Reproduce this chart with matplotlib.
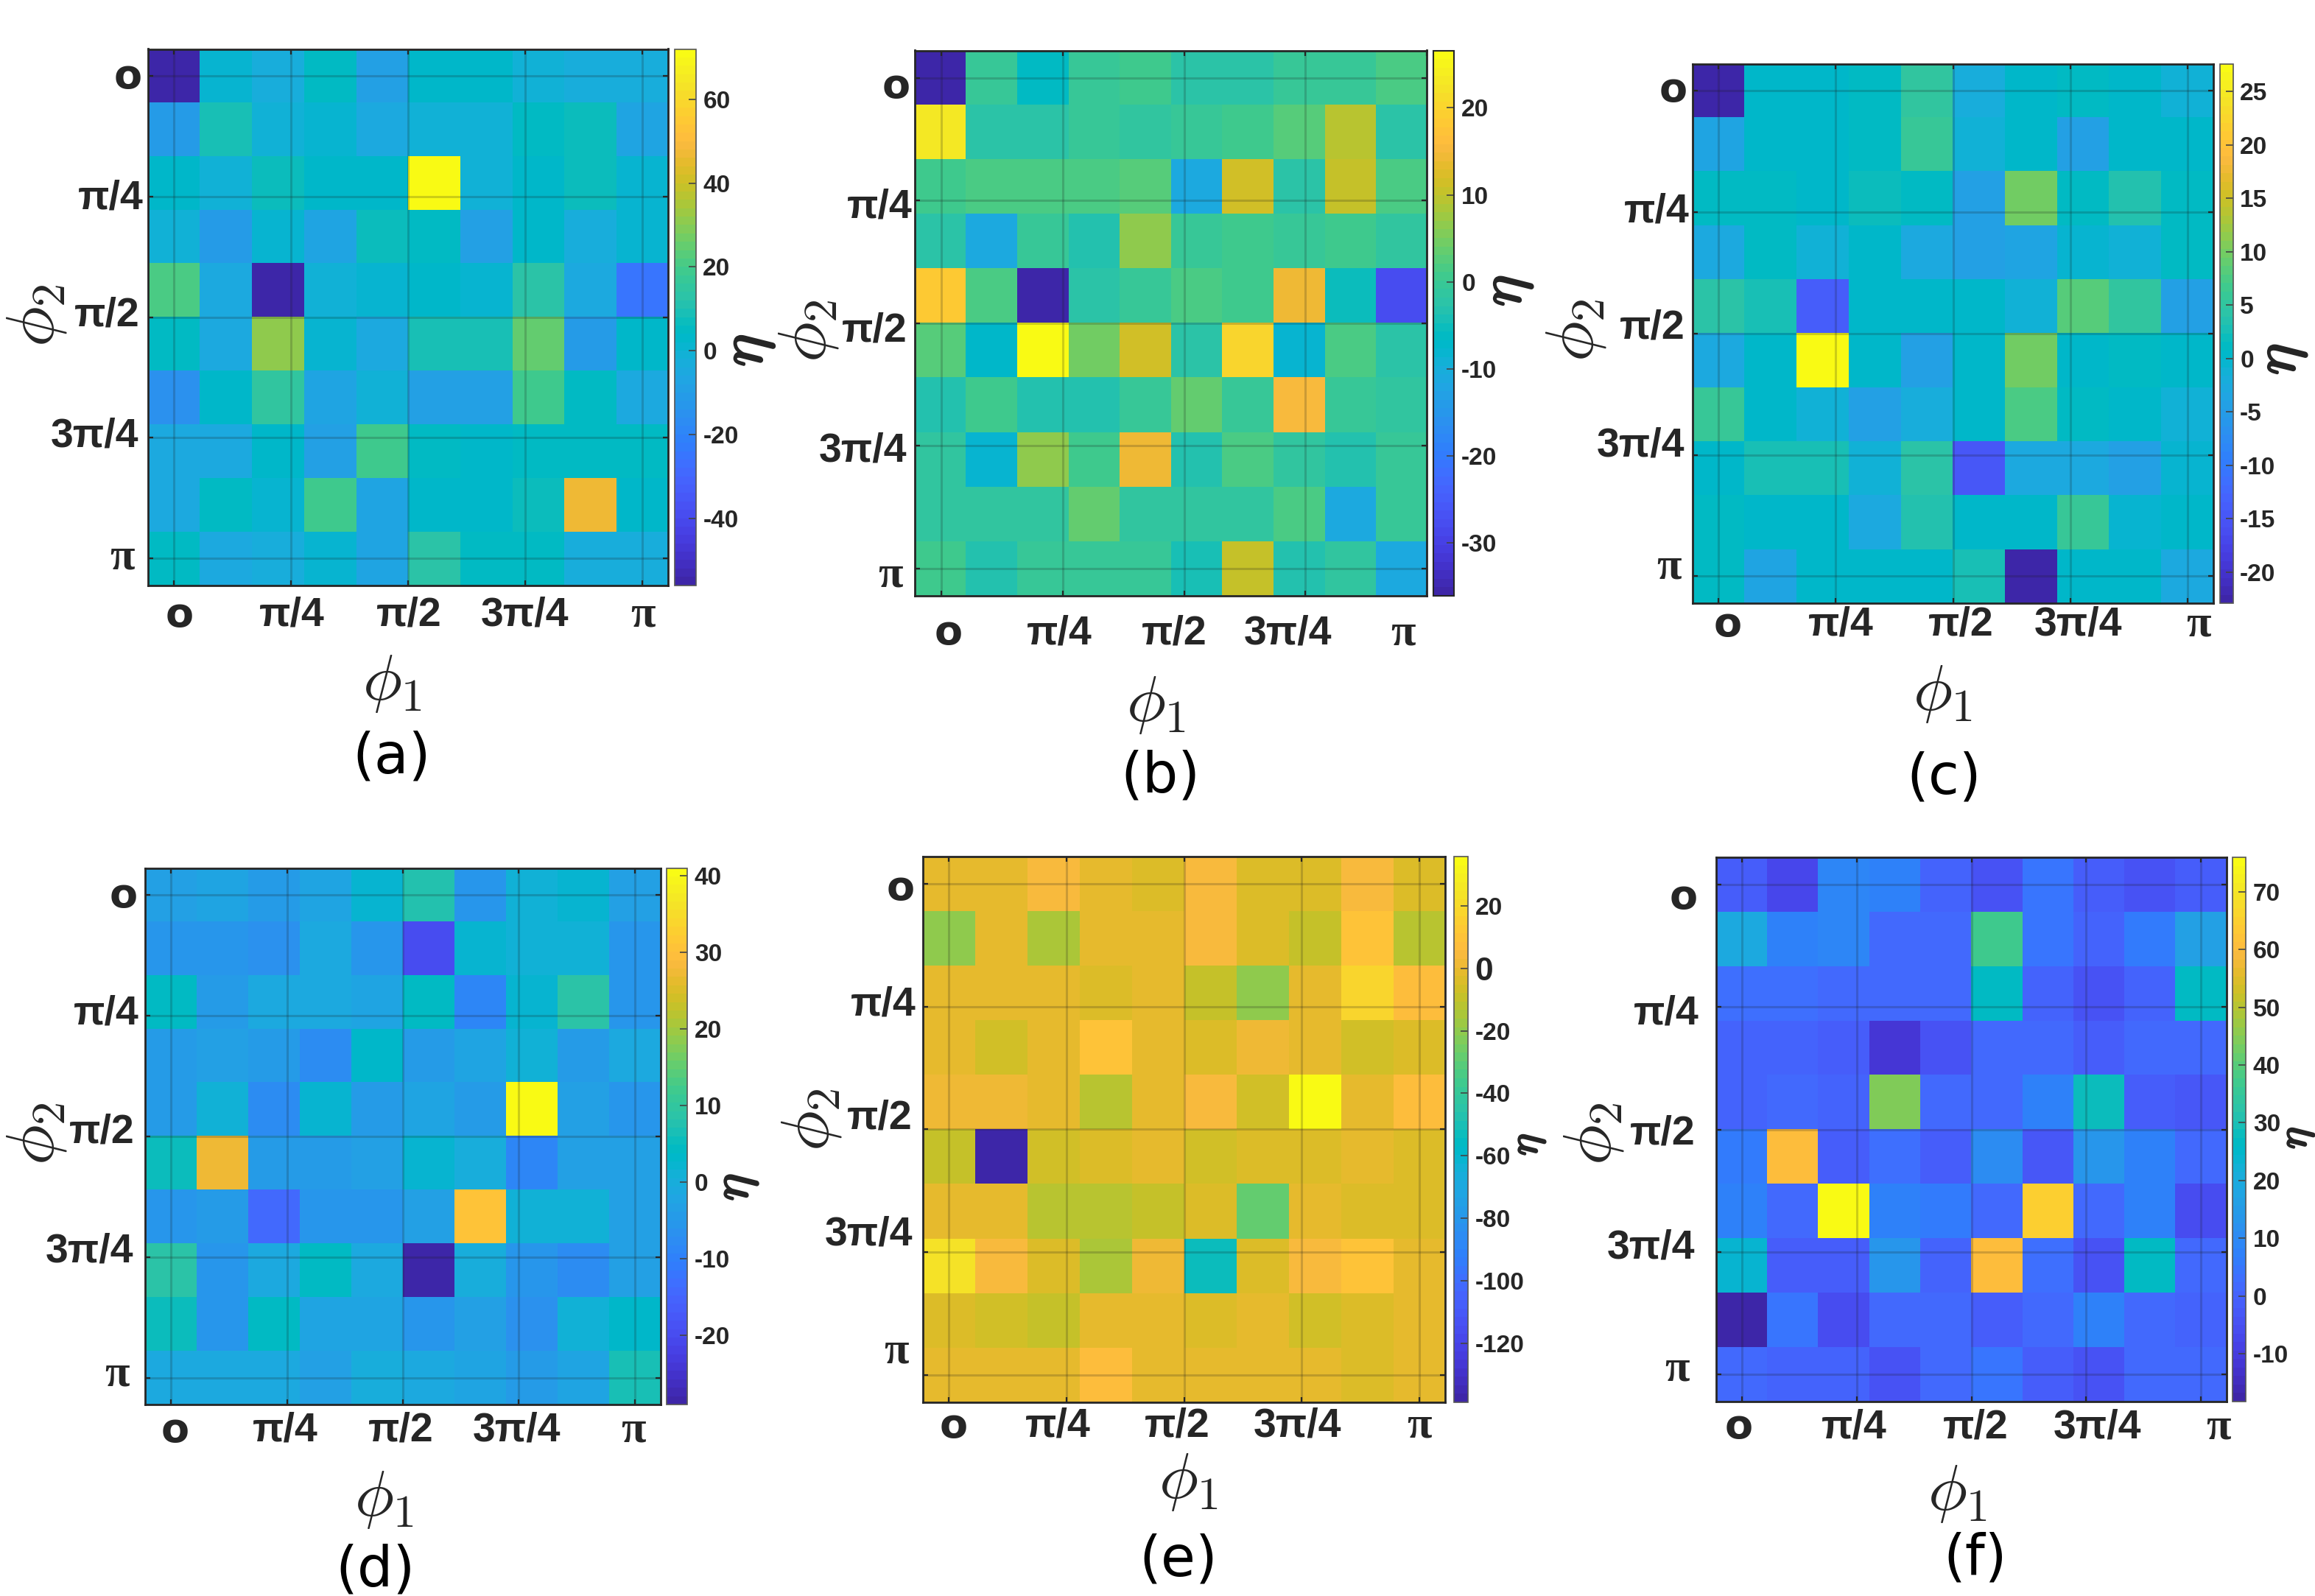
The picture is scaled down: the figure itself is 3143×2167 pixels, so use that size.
import numpy as np
import matplotlib
matplotlib.use("Agg")
import matplotlib.pyplot as plt
import matplotlib.patheffects as pe
from matplotlib.colors import ListedColormap
from matplotlib.transforms import ScaledTranslation

plt.rcParams['mathtext.fontset'] = 'cm'

tick_labels = ['o', 'π/4', 'π/2', '3π/4', 'π']
captions = ['(a)', '(b)', '(c)', '(d)', '(e)', '(f)']

eta_a = [[-56,0,-4,4,-9,3,2,-2,-4,-3],
         [-12,9,-1,0,-6,-1,-1,5,6,-7],
         [3,-2,6,3,2,72,-2,3,7,0],
         [-1,-12,0,-8,6,4,-10,3,-3,0],
         [20,-6,-56,-2,1,3,1,13,-5,-25],
         [4,-5,30,0,-6,8,8,25,-11,2],
         [-16,3,14,-7,-1,-9,-9,18,5,-6],
         [-6,-6,2,-10,19,4,3,5,5,5],
         [-6,5,0,18,-7,3,2,7,47,3],
         [5,-6,-3,1,-7,12,4,4,-4,-3]]
eta_b = [[-36,0,-6,0,1,-2,-2,0,0,1.5],
         [23,-2,-2,0,-1,0,1,3,9.5,-2],
         [1,2,2,1.5,3,-11,11,-2,10.5,1.5],
         [-2,-11,0,-3,6.5,0,0.5,0,1,-1],
         [18.5,2,-36,-2,0,1.5,0.5,14.5,-5,-28],
         [3,-7,26.6,4.5,11,-2,20,-8,2,-2],
         [-3,1,-3,-3,-0.5,3.5,-0.5,15,-0.5,-1.5],
         [-1,-8,7,0.5,14,-3,1.5,-1,-3,0],
         [-1,-1,-1,4,-1,-1,-1,1.5,-11,0],
         [1,-3,0,0,0,-4,10.5,-3,-1,-11]]
eta_c = [[-23,0,0,1.5,5,-2,0,0.8,0.5,-1],
         [-3.5,0,0.5,1,6,-1,0,-4,0,0],
         [1.5,1.5,0,2,1,-4,9.5,0.8,3.5,1.5],
         [-3,1,-1.5,0,-3,-4,-3.5,-0.5,-1,1],
         [4.5,2.5,-14,0,0.5,0.5,-1,8,5,-4],
         [-3,0,27.6,0,-4,0.5,9.5,0.5,1.5,0.5],
         [6,0,-1.5,-4,-2,0,7.5,1.5,0,-1],
         [0.5,2.5,2.5,-1,4,-15,-2.5,-3,-4,-0.5],
         [1,0,0.5,-2.5,3.5,0.5,0.5,6,-0.5,0],
         [1,-3.5,0.5,0.5,0,2.5,-23,0.5,0.5,-3]]
eta_d = [[-3,-2,-4,-2,2,8,-5,1,2,-3],
         [-5,-5,-7,-1.5,-5,-20,2,1.5,1,-6],
         [4,-4,-1.5,-1.5,-2,4,-9,2,9,-6],
         [-4,-3,-4,-8,3.5,-4,-2.5,1.5,-4,-1],
         [-4,1,-8,2,-4,-2,-4,41,-3,-5],
         [5,27,-4,-4,-3,2,0,-9,-3,-3],
         [-5,-4,-14,-5,-6,-3,31,1,1,-3],
         [9,-5,-1,4,-1,-29,-0.5,-6,-8,-3],
         [5,-5,4,-2,-2,-6,-3,-7,1,3.5],
         [-1,-1,-1,-3,-0.5,-1,-2,-4,-2,6]]
eta_e = [[-2,-2,4,-2,-3,5,-3,-3,5,-3],
         [-20,0,-15,-1,0,5,-4,-10,9,-12],
         [-1,-2,0,-3,-1,-8,-20,-1,17,6],
         [-1,-6,0,9,0,-4,2,0,-6,-3],
         [1,1,-2,-13,-1,5,-6,36,-1,7],
         [-8,-139,-6,-3,-1,-7,-3,-3,-2,-3],
         [0,0,-13,-11,-8,-5,-29,-2,-3,-3],
         [24,5,-3,-16,2,-53,-3,5,9,0],
         [-5,-6,-9,0,-2,-4,0,-7,-3,-2],
         [-2,-2,-2,6,-1,-1,0,0,-5,-1]]
eta_f = [[-1,-7,9,8,0.5,-4,4,-2,-5,-1],
         [20,8,9,2,1,37,4,0,6,16],
         [3,3,2,2,1,26,0,-5,0,26],
         [0,0,-1,-12,-5,2,1,-1,1,1],
         [0,1,0,45,2,2,7,28,-2,-3],
         [6,60,-2,3,-2,10,-3,14,8,1],
         [8,1,76,7,6,2,65,2,8,-6],
         [24,-1,-2,13,0,60,3,-4,26,1],
         [-18,4,-6,2,2,-1,1,7,2,0],
         [1,0.5,0,-5,2,4,-2,-4,1,1]]

ticks_a = [-40,-20,0,20,40,60]
ticks_b = [-30,-20,-10,0,10,20]
ticks_c = [-20,-15,-10,-5,0,5,10,15,20,25]
ticks_d = [-20,-10,0,10,20,30,40]
ticks_e = [-120,-100,-80,-60,-40,-20,0,20]
ticks_f = [-10,0,10,20,30,40,50,60,70]

parula = [
(0.2422,0.1504,0.6603),(0.2504,0.1650,0.7076),(0.2578,0.1818,0.7511),(0.2647,0.1978,0.7952),
(0.2706,0.2147,0.8364),(0.2751,0.2342,0.8710),(0.2783,0.2559,0.8991),(0.2803,0.2782,0.9221),
(0.2813,0.3006,0.9414),(0.2810,0.3228,0.9579),(0.2795,0.3447,0.9717),(0.2760,0.3667,0.9829),
(0.2699,0.3892,0.9906),(0.2602,0.4123,0.9952),(0.2440,0.4358,0.9988),(0.2206,0.4603,0.9973),
(0.1963,0.4847,0.9892),(0.1834,0.5074,0.9798),(0.1786,0.5289,0.9682),(0.1764,0.5499,0.9520),
(0.1687,0.5703,0.9359),(0.1540,0.5902,0.9218),(0.1460,0.6091,0.9079),(0.1380,0.6276,0.8973),
(0.1248,0.6459,0.8883),(0.1113,0.6635,0.8763),(0.0952,0.6798,0.8598),(0.0689,0.6948,0.8394),
(0.0297,0.7082,0.8163),(0.0036,0.7203,0.7917),(0.0067,0.7312,0.7660),(0.0433,0.7411,0.7394),
(0.0964,0.7500,0.7120),(0.1408,0.7584,0.6842),(0.1717,0.7670,0.6554),(0.1938,0.7758,0.6251),
(0.2161,0.7843,0.5923),(0.2470,0.7918,0.5567),(0.2906,0.7973,0.5188),(0.3406,0.8008,0.4789),
(0.3909,0.8029,0.4354),(0.4456,0.8024,0.3909),(0.5044,0.7993,0.3480),(0.5616,0.7942,0.3045),
(0.6174,0.7876,0.2612),(0.6720,0.7793,0.2227),(0.7242,0.7698,0.1910),(0.7738,0.7598,0.1646),
(0.8203,0.7498,0.1535),(0.8634,0.7406,0.1596),(0.9035,0.7330,0.1774),(0.9393,0.7288,0.2100),
(0.9728,0.7298,0.2394),(0.9956,0.7434,0.2371),(0.9970,0.7659,0.2199),(0.9952,0.7893,0.2028),
(0.9892,0.8136,0.1885),(0.9786,0.8386,0.1766),(0.9676,0.8639,0.1643),(0.9610,0.8890,0.1537),
(0.9597,0.9135,0.1423),(0.9628,0.9373,0.1265),(0.9691,0.9606,0.1064),(0.9769,0.9839,0.0805)]
cmap = ListedColormap(parula, name='parula')

W, H = 3143, 2167
fig = plt.figure(figsize=(W/100, H/100), dpi=100, facecolor='white')

DARK = '#262626'
SANS = 'Liberation Sans'
SERIF = 'Liberation Serif'

panels = [
 dict(data=eta_a, ticks=ticks_a, vr=(-56,72), ax=(200.8,907,66.5,794.6), cb=(916,944.6),
      xl=(533,926), yl=(48,428), cap=(532,1028), eta=(1014,476), etas=60,
      gap=41, xdx=[8,1,1,0,1], ygap=[8,6,11,13,18], ydy=[2,3,-2,-2,-1]),
 dict(data=eta_b, ticks=ticks_b, vr=(-36.1,26.6), ax=(1241.8,1937,68.5,809), cb=(1946,1974.5),
      xl=(1570,955), yl=(1096,449), cap=(1575,1054), eta=(2045,395), etas=58,
      gap=51, xdx=[10,-5,-13,-24,-32], ygap=[6,3,10,11,16], ydy=[12,9,11,7,10],
      xext=(-0.055,1.0)),
 dict(data=eta_c, ticks=ticks_c, vr=(-22.9,27.6), ax=(2298,3005,86.5,819), cb=(3013.5,3031.5),
      xl=(2637.6,940.6), yl=(2138,448), cap=(2639,1057), eta=(3096,488), etas=58,
      gap=30, xdx=[12,7,11,11,15], ygap=[7,4,10,11,15], ydy=[0,0,-7,-12,-12]),
 dict(data=eta_d, ticks=ticks_d, vr=(-29,41), ax=(197.4,896.6,1178.5,1907), cb=(905,933),
      xl=(522,2035), yl=(48,1539), cap=(509,2132), eta=(999,1612), etas=50,
      gap=36, xdx=[5,-2,-3,-3,-2], ygap=[11,9,15,16,22], ydy=[2,-2,-5,-7,-4]),
 dict(data=eta_e, ticks=ticks_e, vr=(-138.8,35.7), ax=(1253,1962,1163,1904), cb=(1974,1993),
      xl=(1613.7,2011), yl=(1100,1520), cap=(1600,2119), eta=(2074,1554), etas=40,
      gap=33, xdx=[6,-12,-9,-6,0], ygap=[11,9,14,14,19], ydy=[7,-2,-15,-24,-31]),
 dict(data=eta_f, ticks=ticks_f, vr=(-18.3,76), ax=(2330,3023,1164,1903), cb=(3031,3049),
      xl=(2658,2027), yl=(2162,1539), cap=(2682,2116), eta=(3118,1545), etas=40,
      gap=35, xdx=[-4,-3,6,15,24], ygap=[25,23,28,29,36], ydy=[18,9,6,-5,-7]),
]

def shift(label, dx, dy):
    label.set_transform(label.get_transform() + ScaledTranslation(dx/100, dy/100, fig.dpi_scale_trans))

def style_tick_text(label, text):
    if text == 'o':
        label.set_fontfamily('DejaVu Sans')
        label.set_fontsize(40)
    elif text == 'π':
        label.set_fontfamily(SERIF)
        label.set_fontsize(44)
    else:
        label.set_fontfamily(SANS)
        label.set_fontsize(40)
    label.set_fontweight('bold')
    label.set_color(DARK)

phi = np.linspace(0, np.pi, 10)
half = (phi[1] - phi[0]) / 2
tick_pos = [0, np.pi/4, np.pi/2, 3*np.pi/4, np.pi]

for i, p in enumerate(panels):
    x0, x1, y0, y1 = p['ax']
    ax = fig.add_axes([x0/W, 1 - y1/H, (x1 - x0)/W, (y1 - y0)/H])
    if 'xext' in p:
        ext_x = (p['xext'][0]*np.pi, p['xext'][1]*np.pi)
    else:
        ext_x = (phi[0] - half, phi[-1] + half)
    ext_y = (phi[-1] + half, phi[0] - half)
    im = ax.imshow(np.array(p['data'], dtype=float), cmap=cmap, vmin=p['vr'][0], vmax=p['vr'][1],
                   extent=(ext_x[0], ext_x[1], ext_y[0], ext_y[1]), aspect='auto',
                   interpolation='nearest')
    ax.set_xticks(tick_pos)
    ax.set_yticks(tick_pos)
    ax.set_xticklabels(tick_labels)
    ax.set_yticklabels(tick_labels)
    ax.tick_params(axis='both', which='major', direction='in', length=5, width=1.6, color=DARK,
                   top=True, right=True, pad=0)
    ax.grid(True, color='#1a1a1a', alpha=0.2, linewidth=2.2)
    for s in ax.spines.values():
        s.set_linewidth(2)
        s.set_color(DARK)
    for j, lab in enumerate(ax.get_xticklabels()):
        style_tick_text(lab, tick_labels[j])
        lab.set_va('center')
        shift(lab, p['xdx'][j], -p['gap'])
    for j, lab in enumerate(ax.get_yticklabels()):
        style_tick_text(lab, tick_labels[j])
        lab.set_va('center')
        lab.set_ha('right')
        shift(lab, -p['ygap'][j], -p['ydy'][j])

    ax.set_xlabel(r'$\phi_1$', fontsize=64, color=DARK, va='center', ha='center')
    ax.xaxis.set_label_coords(p['xl'][0]/W, 1 - p['xl'][1]/H, transform=fig.transFigure)
    ax.set_ylabel(r'$\phi_2$', fontsize=66, color=DARK, va='center', ha='center', rotation=90)
    ax.yaxis.set_label_coords(p['yl'][0]/W, 1 - p['yl'][1]/H, transform=fig.transFigure)

    c0, c1 = p['cb']
    cax = fig.add_axes([c0/W, 1 - y1/H, (c1 - c0)/W, (y1 - y0)/H])
    cb = fig.colorbar(im, cax=cax)
    cb.set_ticks(p['ticks'])
    cb.set_ticklabels([str(t) for t in p['ticks']])
    cax.tick_params(direction='in', length=7, width=1.2, color='#444444', pad=7)
    for lab, t in zip(cax.get_yticklabels(), p['ticks']):
        lab.set_fontfamily(SANS)
        lab.set_fontweight('bold')
        lab.set_fontsize(32 if (i == 4 and t == 0) else 24)
        lab.set_color(DARK)
    cb.outline.set_edgecolor(DARK if i == 1 else '#555555')
    cb.outline.set_linewidth(1.5 if i == 1 else 1.2)
    cax.set_ylabel(r'$\eta$', fontsize=p['etas'], color=DARK, rotation=90, va='center', ha='center',
                   path_effects=[pe.withStroke(linewidth=2, foreground=DARK)])
    cax.yaxis.set_label_coords(p['eta'][0]/W, 1 - p['eta'][1]/H, transform=fig.transFigure)

    fig.text(p['cap'][0]/W, 1 - p['cap'][1]/H, captions[i], fontsize=55, color='black',
             ha='center', va='center', family='DejaVu Sans')

fig.savefig('out.png', dpi=100, facecolor='white')
